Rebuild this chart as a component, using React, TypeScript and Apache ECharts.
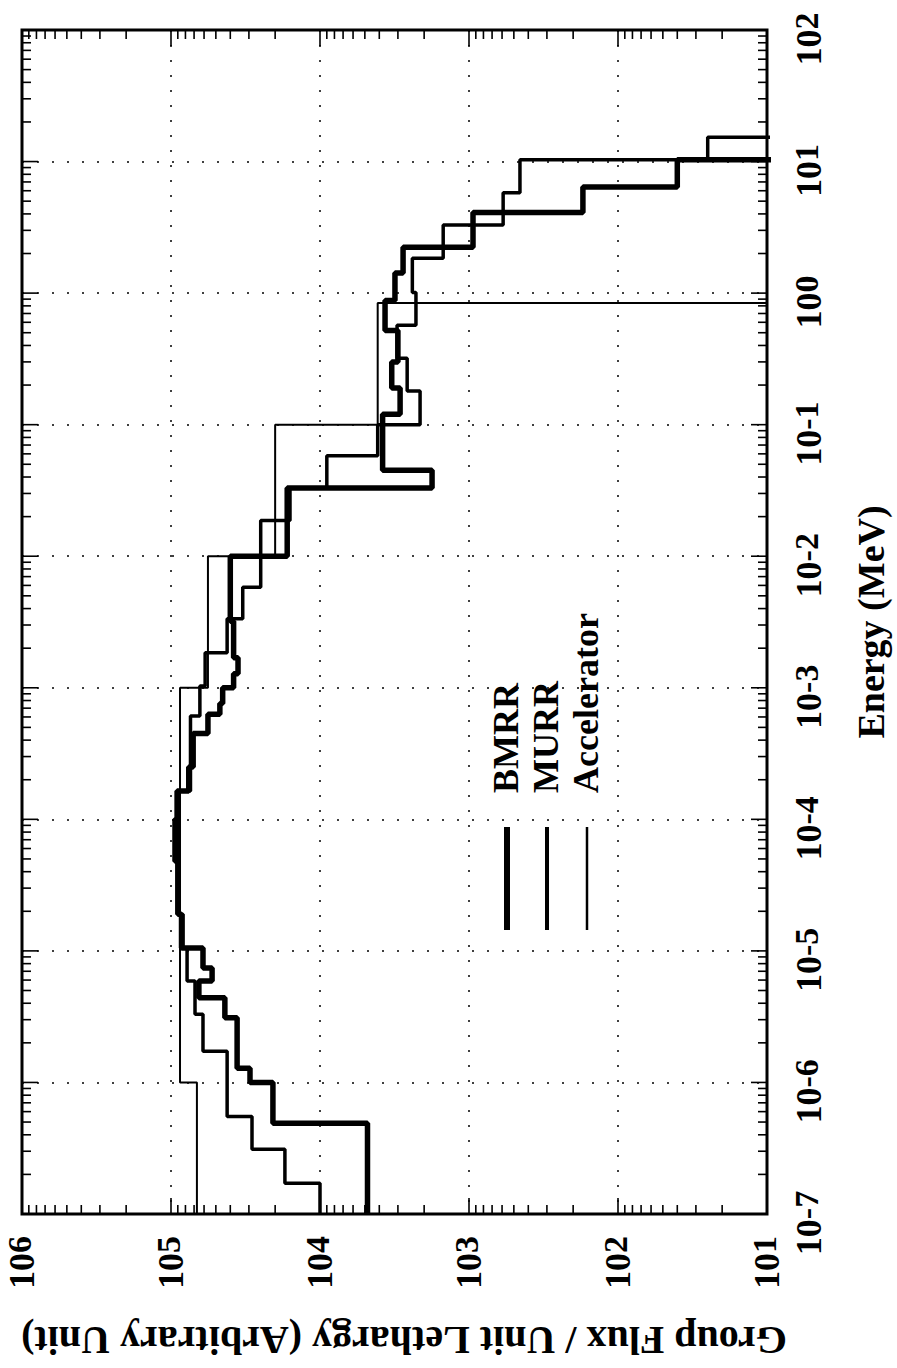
import React, { useEffect, useRef } from 'react';
import * as echarts from 'echarts';

// ---- Axis tick labels (exponents of ten) ----
const fluxExponents = [1, 2, 3, 4, 5, 6];
const energyExponents = [-7, -6, -5, -4, -3, -2, -1, 0, 1, 2];

// ---- Series: group boundaries (MeV) and group flux per unit lethargy ----
// A value of 1 means "below the plotted range" (falls off the 10^1 edge).
const bmrrEdges = [1e-7, 4.9e-7, 1e-6, 1.28e-6, 3.1e-6, 4.4e-6, 5.9e-6, 7.4e-6, 1.05e-5, 1.9e-5, 4.8e-5, 1.0e-4, 1.64e-4, 2.5e-4, 4.5e-4, 6.3e-4, 7.6e-4, 1.0e-3, 1.28e-3, 1.69e-3, 3.2e-3, 1.0e-2, 3.3e-2, 4.5e-2, 0.12, 0.19, 0.30, 0.52, 0.88, 1.42, 2.23, 4.1, 6.4, 10.3, 100];
const bmrrFlux = [4.8e3, 2.07e4, 2.95e4, 3.6e4, 4.35e4, 6.5e4, 5.3e4, 6.1e4, 8.5e4, 9.0e4, 9.4e4, 9.1e4, 7.6e4, 7.1e4, 5.65e4, 4.7e4, 4.5e4, 3.8e4, 3.55e4, 3.8e4, 4.0e4, 1.66e4, 1.77e3, 3.8e3, 2.9e3, 3.3e3, 3.0e3, 3.66e3, 3.14e3, 2.77e3, 940, 172, 40, 1];

const murrEdges = [1e-7, 1.71e-7, 3.1e-7, 5.5e-7, 1.73e-6, 3.3e-6, 5.9e-6, 1.05e-5, 1.9e-5, 1.64e-4, 6.1e-4, 1.03e-3, 1.85e-3, 3.35e-3, 5.8e-3, 1.87e-2, 3.3e-2, 5.8e-2, 0.1, 0.18, 0.32, 0.57, 1.01, 1.84, 3.3, 5.8, 10.3, 15.3, 100];
const murrFlux = [1.0e4, 1.72e4, 2.86e4, 4.2e4, 6.1e4, 6.9e4, 7.8e4, 8.3e4, 8.9e4, 7.4e4, 6.4e4, 5.9e4, 4.2e4, 3.3e4, 2.5e4, 1.59e4, 9.0e3, 4.1e3, 2.13e3, 2.6e3, 3.04e3, 2.27e3, 2.4e3, 1.49e3, 590, 455, 25, 1];

const accEdges = [1e-7, 1e-6, 1e-3, 1e-2, 0.1, 0.84, 100];
const accFlux = [6.7e4, 8.7e4, 5.65e4, 2.0e4, 4.1e3, 1];

const legendNames = ['BMRR', 'MURR', 'Accelerator'];
const xTitle = 'Energy (MeV)';
const yTitle = 'Group Flux / Unit Lethargy (Arbitrary Unit)';

const SERIF = '"Liberation Serif", "DejaVu Serif", serif';

function stepPoints(edges: number[], flux: number[]) {
  const pts: number[][] = [];
  flux.forEach((f, i) => {
    pts.push([f, edges[i]]);
    pts.push([f, edges[i + 1]]);
  });
  return pts;
}

// tick marks (major at decades, minor at 2..9) on all four frame sides
function tickData() {
  const d: number[][] = [];
  const fMin = 10, fMax = 1e6, eMin = 1e-7, eMax = 100;
  const minorLen = 9, majorLen = 16;
  for (let k = 1; k <= 5; k++) {
    for (let m = 1; m <= 9; m++) {
      const v = m * Math.pow(10, k);
      if (v <= fMin || v >= fMax) continue;
      const L = m === 1 ? majorLen : minorLen;
      d.push([v, eMin, 0, -L]);
      d.push([v, eMax, 0, L]);
    }
  }
  for (let k = -7; k <= 1; k++) {
    for (let m = 1; m <= 9; m++) {
      const v = m * Math.pow(10, k);
      if (v <= eMin || v >= eMax) continue;
      const L = m === 1 ? majorLen : minorLen;
      d.push([fMax, v, L, 0]);
      d.push([fMin, v, -L, 0]);
    }
  }
  return d;
}

function expLabel(list: number[]) {
  return (v: number) => {
    const e = Math.round(Math.log10(v));
    if (list.indexOf(e) < 0) return '';
    return `{a|10}{b|${e}}`;
  };
}

const richX = {
  a: { fontFamily: SERIF, fontWeight: 'bold', fontSize: 36, lineHeight: 40, color: '#000' },
  b: { fontFamily: SERIF, fontWeight: 'bold', fontSize: 34, lineHeight: 34, color: '#000', verticalAlign: 'top' },
};
const richY = {
  a: { fontFamily: SERIF, fontWeight: 'bold', fontSize: 36, lineHeight: 40, color: '#000' },
  b: { fontFamily: SERIF, fontWeight: 'bold', fontSize: 34, lineHeight: 34, color: '#000', verticalAlign: 'top', padding: [0, 18, 0, 0] },
};

const splitStyle = { show: true, lineStyle: { color: '#000', width: 1.5, type: [2, 13] } };

export default function App() {
  const ref = useRef<HTMLDivElement>(null);
  useEffect(() => {
    if (!ref.current) return;
    const chart = echarts.init(ref.current, null, { renderer: 'svg' });
    const option: any = {
      animation: false,
      backgroundColor: '#fff',
      grid: {
        left: 22, right: 130, top: 30, bottom: 154, containLabel: false, outerBoundsMode: 'none',
        show: true, borderColor: '#000', borderWidth: 3, backgroundColor: 'transparent',
      },
      xAxis: {
        type: 'log', logBase: 10, min: 10, max: 1e6, inverse: true, position: 'bottom', splitNumber: 5,
        axisLine: { show: false }, axisTick: { show: false },
        splitLine: splitStyle,
        axisLabel: { rotate: 90, margin: 22, interval: 0, showMinLabel: true, showMaxLabel: true, formatter: expLabel(fluxExponents), rich: richX },
      },
      yAxis: {
        type: 'log', logBase: 10, min: 1e-7, max: 100, position: 'right', splitNumber: 9,
        axisLine: { show: false }, axisTick: { show: false },
        splitLine: splitStyle,
        axisLabel: { rotate: 90, margin: 22, interval: 0, showMinLabel: true, showMaxLabel: true, formatter: expLabel(energyExponents), rich: richY },
      },
      series: [
        {
          name: 'ticks', type: 'custom', clip: false, silent: true, z: 5,
          dimensions: ['x', 'y', 'dx', 'dy'], encode: { x: 0, y: 1 },
          data: tickData(),
          renderItem: (params: any, api: any) => {
            const p = api.coord([api.value(0), api.value(1)]);
            return {
              type: 'line',
              shape: { x1: p[0], y1: p[1], x2: p[0] + api.value(2), y2: p[1] + api.value(3) },
              style: { stroke: '#000', lineWidth: 1.6 },
            };
          },
        },
        {
          name: legendNames[2], type: 'line', data: stepPoints(accEdges, accFlux), showSymbol: false, symbol: 'none', clip: true,
          lineStyle: { color: '#000', width: 2 }, z: 3,
        },
        {
          name: legendNames[1], type: 'line', data: stepPoints(murrEdges, murrFlux), showSymbol: false, symbol: 'none', clip: true,
          lineStyle: { color: '#000', width: 3.5 }, z: 3,
        },
        {
          name: legendNames[0], type: 'line', data: stepPoints(bmrrEdges, bmrrFlux), showSymbol: false, symbol: 'none', clip: true,
          lineStyle: { color: '#000', width: 5.5 }, z: 3,
        },
      ],
      graphic: [
        { type: 'line', shape: { x1: 507, y1: 827, x2: 507, y2: 930 }, style: { stroke: '#000', lineWidth: 6 } },
        { type: 'line', shape: { x1: 547, y1: 827, x2: 547, y2: 930 }, style: { stroke: '#000', lineWidth: 4 } },
        { type: 'line', shape: { x1: 587, y1: 827, x2: 587, y2: 930 }, style: { stroke: '#000', lineWidth: 2.5 } },
        ...legendNames.map((n, i) => ({
          type: 'text', x: 506 + i * 40, y: 793, rotation: Math.PI / 2,
          style: { text: n, x: 0, y: 0, font: `bold 36px ${SERIF}`, fill: '#000', textAlign: 'left', textVerticalAlign: 'middle', align: 'left', verticalAlign: 'middle' },
        })),
        {
          type: 'text', x: 871, y: 622, rotation: Math.PI / 2,
          style: { text: xTitle, x: 0, y: 0, font: `bold 38px ${SERIF}`, fill: '#000', textAlign: 'center', textVerticalAlign: 'middle', align: 'center', verticalAlign: 'middle' },
        },
        {
          type: 'text', x: 404, y: 1340, rotation: Math.PI,
          style: { text: yTitle, x: 0, y: 0, font: `bold 40px ${SERIF}`, fill: '#000', textAlign: 'center', textVerticalAlign: 'middle', align: 'center', verticalAlign: 'middle' },
        },
      ],
    };
    chart.setOption(option);
    return () => chart.dispose();
  }, []);
  return <div ref={ref} style={{ position: 'absolute', left: 0, top: 0, width: 897, height: 1368, background: '#fff' }} />;
}
